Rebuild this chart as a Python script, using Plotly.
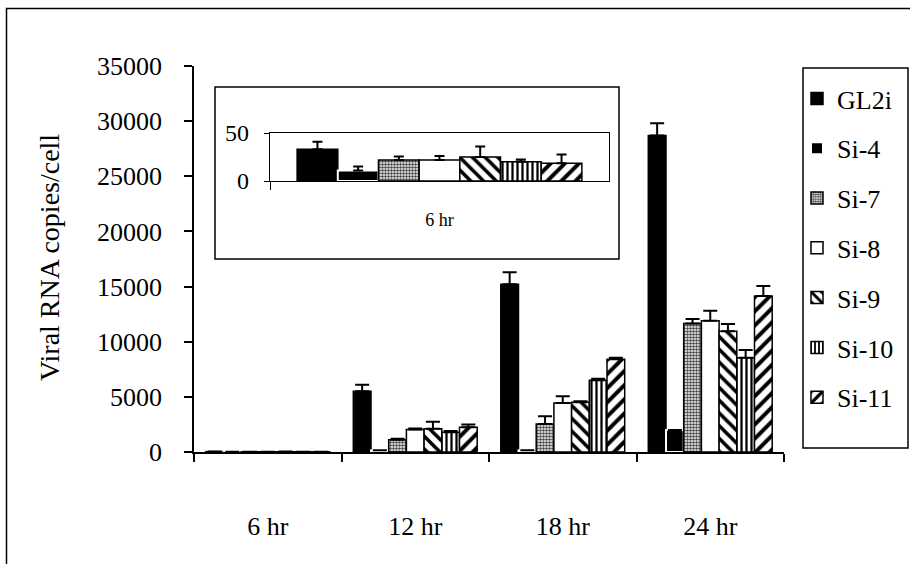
import plotly.graph_objects as go

# ---------------- data ----------------
categories = ["6 hr", "12 hr", "18 hr", "24 hr"]
inset_category = ["6 hr"]
series_names = ["GL2i", "Si-4", "Si-7", "Si-8", "Si-9", "Si-10", "Si-11"]

gl2i = [33, 5500, 15200, 28700]
gl2i_err = [8, 600, 1100, 1100]
si4 = [11, 150, 150, 2000]
si4_err = [4, 0, 0, 0]
si7 = [22, 1100, 2550, 11650]
si7_err = [3.5, 100, 700, 400]
si8 = [22, 2050, 4450, 11900]
si8_err = [4, 80, 600, 900]
si9 = [25, 2100, 4500, 10950]
si9_err = [11, 650, 100, 650]
si10 = [20, 1800, 6500, 8550]
si10_err = [2.5, 100, 150, 700]
si11 = [18.5, 2250, 8400, 14150]
si11_err = [9, 250, 150, 900]

y_ticks = [0, 5000, 10000, 15000, 20000, 25000, 30000, 35000]
inset_y_ticks = [0, 50]

values = [gl2i, si4, si7, si8, si9, si10, si11]
errors = [gl2i_err, si4_err, si7_err, si8_err, si9_err, si10_err, si11_err]

# ---------------- styles ----------------
FONT = "Liberation Serif"
W, H = 910, 564


def px_x(p):
    return p / W


def px_y(p):
    return 1 - p / H


styles = [
    dict(color="black", line=dict(color="black", width=1.5)),
    dict(color="black", line=dict(color="white", width=2)),
    dict(color="white", line=dict(color="black", width=1.5),
         pattern=dict(shape=".", fgcolor="#444444", bgcolor="white", size=3, solidity=0.55)),
    dict(color="white", line=dict(color="black", width=1.5)),
    dict(color="white", line=dict(color="black", width=1.5),
         pattern=dict(shape="\\", fgcolor="black", bgcolor="white", size=9, solidity=0.4)),
    dict(color="white", line=dict(color="black", width=1.5),
         pattern=dict(shape="|", fgcolor="black", bgcolor="white", size=5, solidity=0.45)),
    dict(color="white", line=dict(color="black", width=1.5),
         pattern=dict(shape="/", fgcolor="black", bgcolor="white", size=10, solidity=0.4)),
]

fig = go.Figure()

for name, vals, errs, st in zip(series_names, values, errors, styles):
    err = dict(type="data", symmetric=False, array=errs, arrayminus=[0] * len(errs),
               color="black", thickness=2, width=7)
    fig.add_trace(go.Bar(
        x=categories, y=vals, name=name, marker=st, error_y=err,
        legendgroup=name, showlegend=True, xaxis="x", yaxis="y",
    ))
    fig.add_trace(go.Bar(
        x=inset_category, y=vals[:1], name=name, marker=st,
        error_y=dict(type="data", symmetric=False, array=errs[:1], arrayminus=[0],
                     color="black", thickness=2, width=5),
        legendgroup=name, showlegend=False, xaxis="x2", yaxis="y2",
    ))

axis_font = dict(family=FONT, size=26, color="black")

fig.update_layout(
    template="none",
    width=W, height=H, autosize=False,
    margin=dict(l=0, r=0, t=0, b=0, autoexpand=False),
    paper_bgcolor="white", plot_bgcolor="rgba(0,0,0,0)",
    barmode="group", bargap=0.16, bargroupgap=0,
    font=dict(family=FONT, color="black"),
    xaxis=dict(
        domain=[px_x(194), px_x(784)], anchor="y", type="category",
        showline=True, linecolor="black", linewidth=1.5, mirror=False,
        ticks="outside", ticklen=8, tickwidth=1.5, tickcolor="black",
        tickson="boundaries", showgrid=False, zeroline=False,
        tickfont=axis_font, ticklabelstandoff=50, automargin=False,
    ),
    yaxis=dict(
        domain=[px_y(452), px_y(66)], anchor="x", range=[0, 35000],
        tickvals=y_ticks, tickformat="d",
        showline=True, linecolor="black", linewidth=1.5,
        ticks="outside", ticklen=8, tickwidth=1.5, tickcolor="black",
        showgrid=False, zeroline=False, tickfont=axis_font,
        ticklabelstandoff=17, automargin=False,
    ),
    xaxis2=dict(
        domain=[px_x(270), px_x(609)], anchor="y2", type="category",
        showline=True, linecolor="black", linewidth=1.2, mirror=True,
        ticks="outside", ticklen=8, tickwidth=1.2, tickcolor="black",
        tickson="boundaries", showgrid=False, zeroline=False,
        tickfont=dict(family=FONT, size=18, color="black"),
        ticklabelstandoff=22, automargin=False,
    ),
    yaxis2=dict(
        domain=[px_y(181), px_y(133)], anchor="x2", range=[0, 50],
        tickvals=inset_y_ticks, tickformat="d",
        showline=True, linecolor="black", linewidth=1.2, mirror=True,
        ticks="outside", ticklen=5, tickwidth=1.2, tickcolor="black",
        showgrid=False, zeroline=False,
        tickfont=dict(family=FONT, size=24, color="black"),
        ticklabelstandoff=10, automargin=False,
    ),
    legend=dict(
        x=px_x(797), y=px_y(75), xanchor="left", yanchor="top",
        xref="paper", yref="paper",
        font=dict(family=FONT, size=26, color="black"),
        borderwidth=0, bgcolor="rgba(0,0,0,0)",
        tracegroupgap=13, traceorder="grouped", itemwidth=30,
    ),
    shapes=[
        # outer frame of the figure
        dict(type="rect", xref="paper", yref="paper",
             x0=px_x(6.5), x1=1.02, y0=-0.02, y1=px_y(8.5),
             line=dict(color="black", width=1.5), fillcolor="rgba(0,0,0,0)", layer="below"),
        # inset frame
        dict(type="rect", xref="paper", yref="paper",
             x0=px_x(215), x1=px_x(619), y0=px_y(259), y1=px_y(87),
             line=dict(color="black", width=1.5), fillcolor="rgba(0,0,0,0)", layer="below"),
        # legend frame
        dict(type="rect", xref="paper", yref="paper",
             x0=px_x(803), x1=px_x(908), y0=px_y(448), y1=px_y(68),
             line=dict(color="black", width=1.5), fillcolor="rgba(0,0,0,0)", layer="below"),
    ],
    annotations=[
        dict(text="Viral RNA copies/cell", textangle=-90, xref="paper", yref="paper",
             x=px_x(50), y=px_y(258), xanchor="center", yanchor="middle",
             showarrow=False, font=dict(family=FONT, size=28, color="black")),
    ],
)

fig.write_html("out.html", config={"displayModeBar": False},
               post_script="document.body.style.margin='0px';")
